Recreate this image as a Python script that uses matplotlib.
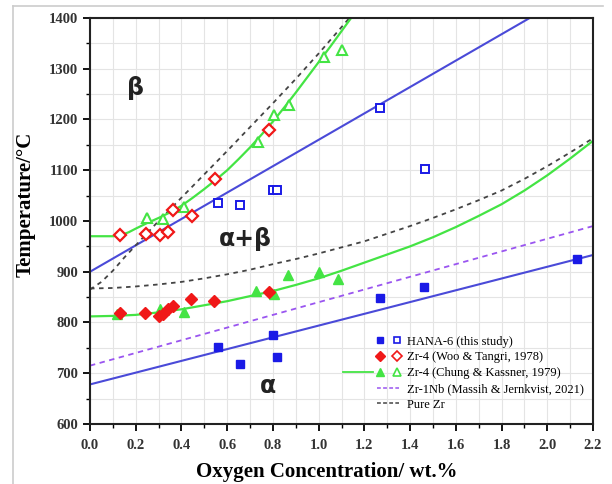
import numpy as np
import matplotlib
matplotlib.use("Agg")
import matplotlib.pyplot as plt
from matplotlib.lines import Line2D
from matplotlib.legend_handler import HandlerBase
from matplotlib.ticker import MultipleLocator

# HANA-6 (this study): filled = alpha/alpha+beta, open = alpha+beta/beta
hana_lo_x = [0.56, 0.656, 0.80, 0.82, 1.27, 1.46, 2.13]
hana_lo_t = [751, 718, 776, 733, 849, 870, 925]
hana_hi_x = [0.56, 0.656, 0.80, 0.82, 1.27, 1.466]
hana_hi_t = [1035, 1032, 1061, 1061, 1222, 1102]

# Zr-4 (Woo & Tangri, 1978)
woo_lo_x = [0.131, 0.24, 0.30, 0.32, 0.343, 0.364, 0.442, 0.544, 0.783]
woo_lo_t = [819, 819, 813, 817, 826, 832, 846, 842, 861]
woo_hi_x = [0.131, 0.245, 0.306, 0.34, 0.364, 0.448, 0.547, 0.785]
woo_hi_t = [972, 974, 972, 978, 1022, 1010, 1082, 1179]

# Zr-4 (Chung & Kassner, 1979)
chung_lo_x = [0.12, 0.306, 0.413, 0.725, 0.806, 0.867, 1.003, 1.086]
chung_lo_t = [817, 826, 821, 863, 856, 894, 900, 886]
chung_hi_x = [0.248, 0.32, 0.413, 0.733, 0.805, 0.872, 1.024, 1.10]
chung_hi_t = [1005, 1003, 1028, 1156, 1209, 1229, 1324, 1337]

# Chung & Kassner fitted boundaries
chung_fit_lo_x = [0.0, 0.1, 0.2, 0.3, 0.4, 0.5, 0.6, 0.7, 0.8, 0.9, 1.0, 1.1,
                  1.2, 1.3, 1.4, 1.5, 1.6, 1.7, 1.8, 1.9, 2.0, 2.1, 2.2]
chung_fit_lo_t = [812, 813, 815, 820, 826, 834, 842, 852, 862, 874, 887, 902,
                  918, 934, 950, 968, 988, 1010, 1033, 1060, 1090, 1123, 1158]
chung_fit_hi_x = [0.0, 0.05, 0.1, 0.13, 0.17, 0.2, 0.25, 0.3, 0.35, 0.4, 0.45, 0.5,
                  0.55, 0.6, 0.65, 0.7, 0.75, 0.8, 0.85, 0.9, 0.95, 1.0, 1.05, 1.1, 1.15]
chung_fit_hi_t = [970, 970, 970, 971, 978, 985, 996, 1006, 1017, 1030, 1046, 1063,
                  1081, 1100, 1122, 1145, 1170, 1196, 1224, 1253, 1283, 1313, 1343, 1374, 1405]

# HANA-6 linear boundaries
hana_fit_x = [0.0, 2.2]
hana_fit_lo_t = [678, 933]
hana_fit_hi_t = [900, 1472]

# Zr-1Nb (Massih & Jernkvist, 2021)
nb_x = [0.0, 2.2]
nb_t = [715, 990]

# Pure Zr
pure_lo_x = [0.0, 0.1, 0.2, 0.3, 0.4, 0.5, 0.6, 0.7, 0.8, 0.9, 1.0, 1.1,
             1.2, 1.3, 1.4, 1.5, 1.6, 1.7, 1.8, 1.9, 2.0, 2.1, 2.2]
pure_lo_t = [867, 868, 871, 875, 880, 887, 895, 904, 915, 925, 936, 948,
             960, 975, 990, 1006, 1023, 1041, 1060, 1083, 1108, 1135, 1163]
pure_hi_x = [0.0, 0.05, 0.1, 0.15, 0.2, 0.3, 0.4, 0.5, 0.6, 0.7, 0.8, 0.9, 1.0, 1.1, 1.15]
pure_hi_t = [865, 880, 902, 928, 952, 1000, 1046, 1092, 1138, 1185, 1232, 1280, 1330, 1382, 1408]

BLUE = "#1a1ae6"
BLUE_LINE = "#4a4ad8"
RED = "#f01818"
GREEN = "#44e444"
PURPLE = "#9a55f0"
GREY = "#444444"

SERIF = "Liberation Serif"


class PairHandler(HandlerBase):
    # markers at both ends of the handle box, any plain line drawn left of it
    def create_artists(self, legend, orig_handle, xdescent, ydescent,
                       width, height, fontsize, trans):
        y = height / 2 - ydescent
        x0 = -xdescent
        arts = []
        markers = [h for h in orig_handle if h.get_marker() not in (None, "None", "")]
        lines = [h for h in orig_handle if h not in markers]
        for h in lines:
            a = Line2D([x0 - 1.6 * width, x0 - 0.2 * width], [y, y])
            a.update_from(h)
            a.set_transform(trans)
            arts.append(a)
        pos = [x0 + 0.1 * width, x0 + 0.9 * width]
        for h, xp in zip(markers, pos):
            a = Line2D([xp], [y])
            a.update_from(h)
            a.set_transform(trans)
            arts.append(a)
        return arts


def plot_phase(savepath="out.png"):
    fig = plt.figure(figsize=(6.12, 4.84), dpi=100)
    ax = fig.add_axes([90/612, 1-424/484, 503/612, 406/484])

    # light frame round the picture, kept under everything else
    fig.add_artist(Line2D([13/612, 13/612], [0, 1-6/484], color="#cccccc", lw=1.2, zorder=-5))
    fig.add_artist(Line2D([13/612, 603/612], [1-6/484, 1-6/484], color="#cccccc", lw=1.2, zorder=-5))

    # boundaries
    ax.plot(hana_fit_x, hana_fit_lo_t, color=BLUE_LINE, lw=1.5)
    ax.plot(hana_fit_x, hana_fit_hi_t, color=BLUE_LINE, lw=1.5)
    ax.plot(nb_x, nb_t, color=PURPLE, lw=1.3, dashes=(3, 2.5))
    ax.plot(pure_lo_x, pure_lo_t, color=GREY, lw=1.3, dashes=(2.5, 2.5))
    ax.plot(pure_hi_x, pure_hi_t, color=GREY, lw=1.3, dashes=(2.5, 2.5))
    ax.plot(chung_fit_lo_x, chung_fit_lo_t, color=GREEN, lw=1.6)
    ax.plot(chung_fit_hi_x, chung_fit_hi_t, color=GREEN, lw=1.6)

    # data points
    ax.plot(chung_lo_x, chung_lo_t, "^", color=GREEN, ms=7.5, ls="none")
    ax.plot(chung_hi_x, chung_hi_t, "^", mfc="white", mec=GREEN, mew=1.5, ms=7.5, ls="none")
    ax.plot(woo_lo_x, woo_lo_t, "D", color=RED, ms=6, ls="none")
    ax.plot(woo_hi_x, woo_hi_t, "D", mfc="white", mec=RED, mew=1.6, ms=6, ls="none")
    ax.plot(hana_lo_x, hana_lo_t, "s", color=BLUE, ms=5.5, ls="none")
    ax.plot(hana_hi_x, hana_hi_t, "s", mfc="white", mec=BLUE, mew=1.4, ms=5.5, ls="none")

    # phase fields
    ax.text(0.2, 1262, "β", fontsize=17, fontweight="bold", ha="center", va="center", color="#222222")
    ax.text(0.68, 965, "α+β", fontsize=17, fontweight="bold", ha="center", va="center", color="#222222")
    ax.text(0.78, 675, "α", fontsize=17, fontweight="bold", ha="center", va="center", color="#222222")

    ax.set_xlim(0, 2.2)
    ax.set_ylim(600, 1400)
    ax.xaxis.set_major_locator(MultipleLocator(0.2))
    ax.xaxis.set_minor_locator(MultipleLocator(0.1))
    ax.yaxis.set_major_locator(MultipleLocator(100))
    ax.yaxis.set_minor_locator(MultipleLocator(50))
    ax.grid(True, which="both", color="#e4e4e4", lw=0.8)
    ax.set_axisbelow(True)
    ax.tick_params(which="major", direction="out", length=5, width=1.3)
    ax.tick_params(axis="x", which="major", pad=6)
    ax.tick_params(which="minor", direction="out", length=3, width=1.0)
    for s in ax.spines.values():
        s.set_linewidth(1.5)
        s.set_color("#222222")

    ax.set_xticks(np.arange(0, 2.21, 0.2))
    ax.set_xticklabels(["%.1f" % v for v in np.arange(0, 2.21, 0.2)])
    for lab in ax.get_xticklabels() + ax.get_yticklabels():
        lab.set_fontfamily(SERIF)
        lab.set_fontweight("bold")
        lab.set_fontsize(10.5)
        lab.set_color("#333333")

    ax.set_xlabel("Oxygen Concentration/ wt.%", fontfamily=SERIF, fontweight="bold",
                  fontsize=15)
    ax.set_ylabel("Temperature/°C", fontfamily=SERIF, fontweight="bold",
                  fontsize=15)
    ax.xaxis.set_label_coords(0.471, -0.118)
    ax.yaxis.set_label_coords(-0.127, 0.542)
    ax.xaxis.label.set_va("center")
    ax.yaxis.label.set_va("center")

    # legend
    sq_f = Line2D([], [], marker="s", color=BLUE, ls="none", ms=5)
    sq_o = Line2D([], [], marker="s", mfc="white", mec=BLUE, mew=1.2, ls="none", ms=5)
    di_f = Line2D([], [], marker="D", color=RED, ls="none", ms=5)
    di_o = Line2D([], [], marker="D", mfc="white", mec=RED, mew=1.2, ls="none", ms=5)
    gr_l = Line2D([], [], color=GREEN, lw=1.3, marker="None")
    tr_f = Line2D([], [], marker="^", color=GREEN, ls="none", ms=5.5)
    tr_o = Line2D([], [], marker="^", mfc="white", mec=GREEN, mew=1.2, ls="none", ms=5.5)
    nb_l = Line2D([], [], color=PURPLE, lw=1.1, dashes=(2.5, 1.5))
    pz_l = Line2D([], [], color=GREY, lw=1.1, dashes=(2.5, 1.5))

    handles = [(sq_f, sq_o), (di_f, di_o), (gr_l, tr_f, tr_o), nb_l, pz_l]
    labels = ["HANA-6 (this study)", "Zr-4 (Woo & Tangri, 1978)",
              "Zr-4 (Chung & Kassner, 1979)", "Zr-1Nb (Massih & Jernkvist, 2021)",
              "Pure Zr"]
    ax.legend(handles, labels, loc="lower right", bbox_to_anchor=(1.005, 0.005),
              frameon=False, handler_map={tuple: PairHandler()},
              prop={"family": SERIF, "size": 9}, handlelength=1.7,
              labelspacing=0.3, handletextpad=0.7)

    fig.savefig(savepath, dpi=100)


if __name__ == "__main__":
    plot_phase("out.png")
